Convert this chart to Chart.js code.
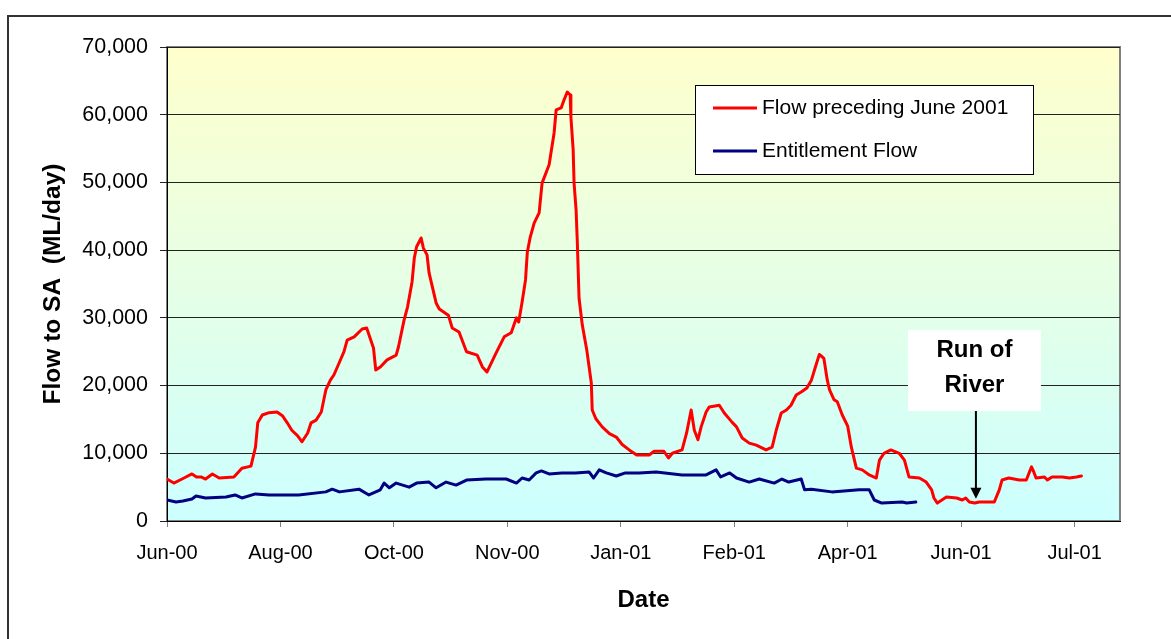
<!DOCTYPE html>
<html>
<head>
<meta charset="utf-8">
<title>Flow to SA</title>
<script src="https://cdn.jsdelivr.net/npm/chart.js@4.4.1/dist/chart.umd.min.js"></script>
<style>
  html, body { margin: 0; padding: 0; background: #fff; overflow: hidden; }
  #frame { position: absolute; left: 7px; top: 15px; width: 1200px; height: 700px; border: 2px solid #333; }
  #c { position: absolute; left: 0; top: 0; }
</style>
</head>
<body>
<div id="frame"></div>
<canvas id="c" width="1171" height="639"></canvas>
<script>
// x values are days from the start of the axis (ticks every 50 days)
const tickLabels = ['Jun-00', 'Aug-00', 'Oct-00', 'Nov-00', 'Jan-01', 'Feb-01', 'Apr-01', 'Jun-01', 'Jul-01'];

const flowDays = [0, 3, 7.5, 11, 13, 15, 17, 20, 23, 29.5, 33, 37, 39, 40, 42, 45, 48.5, 51, 53, 55, 57.5, 59.5, 62, 63.5, 65.7, 68,
  70, 72, 73.6, 75.8, 78, 79.4, 82.5, 86, 88, 91, 92, 94, 97, 101, 102, 104.5, 106, 108, 109, 110, 112, 113, 114.6, 115.5,
  118.6, 120, 124, 125.7, 128.7, 132, 136.7, 139, 141, 145, 148.6, 151.7, 154, 155, 156.5, 158, 158.8, 160, 161.8, 164,
  165.3, 168.4, 170.6, 171.5, 173.7, 175, 176.4, 177.7, 178, 179, 179.4, 180.3, 180.8, 181.6, 183, 185, 187, 187.4, 189,
  191.8, 195, 198, 200.6, 203.7, 205, 207, 212.5, 214.7, 219, 221, 222.7, 227, 229, 231, 232.4, 234, 235.4, 237.6, 239,
  243.4, 245.6, 249, 251, 253.5, 256.6, 259.7, 264, 266.7, 268.5, 270.7, 273, 275, 277.3, 279.5, 282, 284, 286, 287.5,
  289.5, 291, 292, 294, 295.4, 297.6, 300, 301.6, 303.8, 306.4, 309.5, 312.6, 314, 316, 319, 322.7, 325, 327, 331.6,
  334.6, 337, 338, 339.5, 343.5, 348, 350.5, 352, 353.6, 356, 358, 364.6, 366.8, 368, 371, 375.6, 378.7, 381, 382, 383,
  386.7, 388, 390, 394.6, 397.7, 400.8, 403];
const flowValues = [6200, 5600, 6350, 6950, 6500, 6500, 6200, 6950, 6350, 6500, 7800, 8100, 10900, 14500, 15650, 16000, 16100, 15500, 14500, 13400, 12600, 11700, 13000, 14500, 14900, 16100,
  19350, 20800, 21600, 23300, 25000, 26700, 27200, 28350, 28500, 25550, 22300, 22750, 23800, 24500, 25700, 29700, 31600, 35300, 38850, 40500, 41800, 40300, 39300, 36650,
  32200, 31300, 30400, 28500, 27900, 25000, 24500, 22750, 22000, 24800, 27200, 27800, 30000, 29400, 32350, 35600, 39700, 41800, 44000, 45500,
  49900, 52600, 57300, 60700, 61000, 62200, 63350, 62900, 59700, 54800, 49900, 45900, 41500, 32900, 29000, 25250, 20400, 16400, 15100,
  13900, 12900, 12400, 11300, 10500, 10200, 9750, 9750, 10300, 10300, 9300, 10000, 10500, 13000, 16400, 13400, 12000, 13900, 16100, 16850,
  17100, 15950, 14600, 13900, 12250, 11500, 11200, 10500, 10900, 13400, 15950, 16400, 17100, 18600, 19050, 19650, 20800, 23000, 24600,
  24000, 20800, 19350, 17900, 17600, 15650, 14000, 10900, 7800, 7550, 6800, 6350, 9000, 10000, 10500, 10000, 9000, 6500, 6350,
  5750, 4600, 3400, 2650, 3550, 3400, 3100, 3400, 2800, 2650, 2800, 2800, 4600, 6050, 6350, 6050, 6050, 8000, 7250, 6350,
  6500, 6050, 6500, 6500, 6350, 6500, 6650];

const entDays = [0, 4, 7, 11, 12.8, 17, 26, 30, 33, 39, 45, 58, 70, 72.8, 76, 84.6, 89, 94, 95.7, 98, 101, 106.7, 110, 115.5,
  118.6, 123, 127.4, 132, 140.6, 149.5, 154, 156.5, 159.6, 162.7, 165, 168.4, 174, 180, 186, 188, 190.5, 193.6, 198, 202,
  208, 215.6, 227, 237.6, 242, 244, 248, 251, 256.6, 261, 267.6, 271, 274, 279.5, 281, 284, 293, 305, 309.5, 311.7, 315,
  324, 326, 330];
const entValues = [3100, 2800, 2950, 3250, 3700, 3400, 3550, 3850, 3400, 4000, 3850, 3850, 4300, 4700, 4300, 4700, 3850, 4600, 5600, 4900, 5600, 5000, 5600, 5750,
  4900, 5750, 5300, 6050, 6200, 6200, 5600, 6350, 6050, 7100, 7400, 6950, 7100, 7100, 7250, 6350, 7550, 7100, 6650, 7100,
  7100, 7250, 6800, 6800, 7550, 6500, 7100, 6350, 5750, 6200, 5600, 6200, 5750, 6200, 4600, 4700, 4300, 4600, 4600, 3100, 2650,
  2800, 2650, 2800];

const calloutLines = ['Run of', 'River'];
const calloutDay = 356.5;     // where the arrow points
const calloutValue = 3300;
const calloutTopValue = 28200;

const FONT = '"Liberation Sans", Arial, sans-serif';

function toPoints(xs, ys) {
  return xs.map((x, i) => ({ x: x, y: ys[i] }));
}

const plotBg = {
  id: 'plotBg',
  beforeDraw(chart) {
    const { ctx, chartArea: a } = chart;
    const g = ctx.createLinearGradient(0, a.top, 0, a.bottom);
    g.addColorStop(0, '#FFFFCC');
    g.addColorStop(1, '#CCFFFF');
    ctx.save();
    ctx.fillStyle = g;
    ctx.fillRect(a.left, a.top, a.right - a.left, a.bottom - a.top);
    ctx.strokeStyle = '#808080';
    ctx.lineWidth = 2;
    ctx.strokeRect(a.left, a.top, a.right - a.left, a.bottom - a.top);
    ctx.restore();
  }
};

const extras = {
  id: 'extras',
  afterDraw(chart) {
    const { ctx, chartArea: a, scales } = chart;
    ctx.save();
    // legend box
    const lx = a.left + 528, ly = a.top + 38, lw = 338, lh = 89;
    ctx.fillStyle = '#fff';
    ctx.fillRect(lx, ly, lw, lh);
    ctx.strokeStyle = '#000';
    ctx.lineWidth = 1;
    ctx.strokeRect(lx + 0.5, ly + 0.5, lw, lh);
    ctx.font = '21px ' + FONT;
    ctx.textBaseline = 'middle';
    ctx.textAlign = 'left';
    chart.data.datasets.forEach((ds, i) => {
      const y = ly + 23 + i * 43;
      ctx.strokeStyle = ds.borderColor;
      ctx.lineWidth = 3;
      ctx.beginPath();
      ctx.moveTo(lx + 18, y);
      ctx.lineTo(lx + 62, y);
      ctx.stroke();
      ctx.fillStyle = '#000';
      ctx.fillText(ds.label, lx + 67, y);
    });

    // callout with arrow
    const ax = scales.x.getPixelForValue(calloutDay);
    const ay = scales.y.getPixelForValue(calloutValue);
    const by = scales.y.getPixelForValue(calloutTopValue);
    const bx = ax - 68, bw = 133, bh = 81;
    ctx.fillStyle = '#fff';
    ctx.fillRect(bx, by, bw, bh);
    ctx.fillStyle = '#000';
    ctx.font = 'bold 24px ' + FONT;
    ctx.textAlign = 'center';
    calloutLines.forEach((t, i) => ctx.fillText(t, bx + bw / 2, by + 20 + i * 35));
    ctx.strokeStyle = '#000';
    ctx.lineWidth = 2;
    ctx.beginPath();
    ctx.moveTo(ax, by + bh);
    ctx.lineTo(ax, ay - 8);
    ctx.stroke();
    ctx.beginPath();
    ctx.moveTo(ax, ay);
    ctx.lineTo(ax - 5.5, ay - 11);
    ctx.lineTo(ax + 5.5, ay - 11);
    ctx.closePath();
    ctx.fill();
    ctx.restore();
  }
};

new Chart(document.getElementById('c'), {
  type: 'line',
  data: {
    datasets: [{
      label: 'Flow preceding June 2001',
      data: toPoints(flowDays, flowValues),
      borderColor: '#FF0000',
      borderWidth: 3,
      pointRadius: 0,
      tension: 0,
      borderJoinStyle: 'round',
      borderCapStyle: 'round'
    }, {
      label: 'Entitlement Flow',
      data: toPoints(entDays, entValues),
      borderColor: '#000080',
      borderWidth: 3,
      pointRadius: 0,
      tension: 0,
      borderJoinStyle: 'round',
      borderCapStyle: 'round'
    }]
  },
  options: {
    responsive: false,
    animation: false,
    devicePixelRatio: 1,
    layout: { padding: { top: 47, right: 51, left: 0, bottom: 0 } },
    plugins: {
      legend: { display: false },
      tooltip: { enabled: false }
    },
    scales: {
      x: {
        type: 'linear',
        min: 0,
        max: 420,
        afterFit(scale) { scale.height = 118; },
        ticks: {
          stepSize: 50,
          includeBounds: false,
          autoSkip: false,
          maxRotation: 0,
          padding: 14,
          color: '#000',
          font: { family: FONT, size: 20 },
          callback: (v) => tickLabels[v / 50] || ''
        },
        grid: { drawOnChartArea: false, drawTicks: true, tickLength: 6, color: '#808080' },
        border: { display: true, color: '#000', width: 1 },
        title: {
          display: true,
          text: 'Date',
          color: '#000',
          font: { family: FONT, size: 24, weight: 'bold' },
          padding: { bottom: 24 }
        }
      },
      y: {
        min: 0,
        max: 70000,
        afterFit(scale) { scale.width = 167; },
        ticks: {
          stepSize: 10000,
          padding: 12,
          color: '#000',
          font: { family: FONT, size: 21.5 },
          callback: (v) => v.toLocaleString('en-US')
        },
        grid: { color: '#222', lineWidth: 1, tickLength: 7 },
        border: { display: true, color: '#000', width: 1 },
        title: {
          display: true,
          text: 'Flow to SA  (ML/day)',
          color: '#000',
          font: { family: FONT, size: 24.5, weight: 'bold' },
          padding: { top: 39 }
        }
      }
    }
  },
  plugins: [plotBg, extras]
});
</script>
</body>
</html>
